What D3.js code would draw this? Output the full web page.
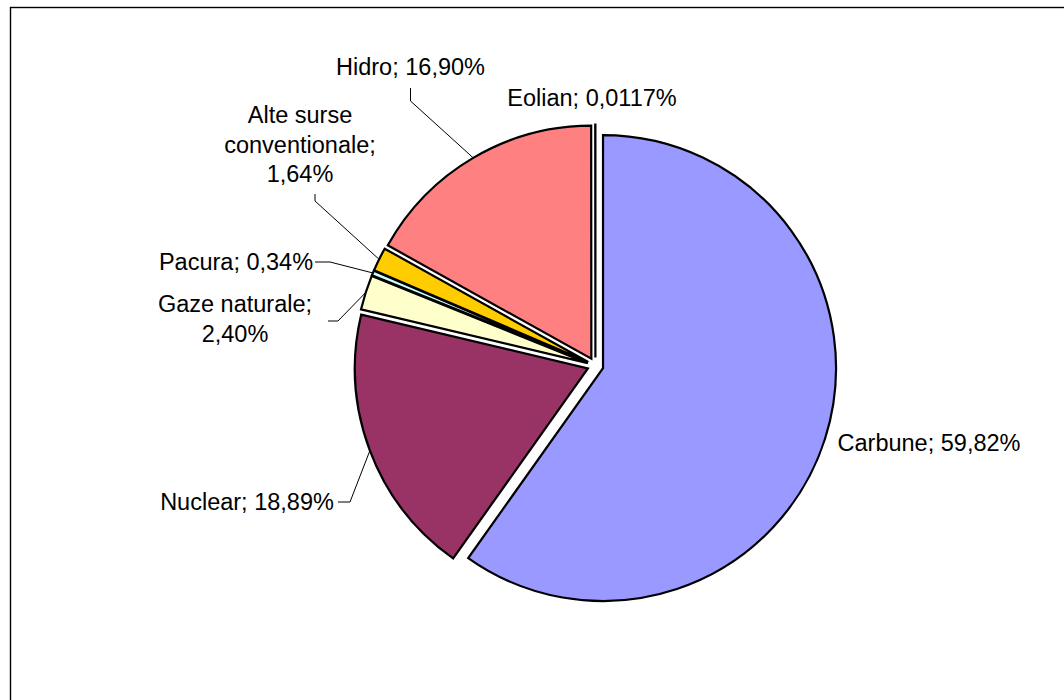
<!DOCTYPE html>
<html>
<head>
<meta charset="utf-8">
<script src="https://cdn.jsdelivr.net/npm/d3@7"></script>
<style>
  html, body { margin: 0; padding: 0; background: #fff; }
  svg { display: block; }
</style>
</head>
<body>
<svg id="chart" width="1064" height="700"></svg>
<script>
// data
const categories = ['Carbune', 'Nuclear', 'Gaze naturale', 'Pacura', 'Alte surse conventionale', 'Hidro', 'Eolian']
const shares = [59.82, 18.89, 2.40, 0.34, 1.64, 16.90, 0.0117]
const colors = ['#9999FF', '#993366', '#FFFFCC', '#CCFFFF', '#FFCC00', '#FF8080', '#660066']

// label placement (text centre x, first baseline y, leader start points)
const labelLayout = {
  'Carbune': { x: 929, y: 451 },
  'Nuclear': { x: 247, y: 510, leader: [[338, 502], [350, 502]] },
  'Gaze naturale': { x: 235, y: 312, leader: [[328, 321], [338, 321]] },
  'Pacura': { x: 236, y: 270, leader: [[315, 262], [330, 262]] },
  'Alte surse conventionale': { x: 300, y: 123, leader: [[315, 194], [315, 201]] },
  'Hidro': { x: 410.5, y: 75, leader: [[410.5, 88], [410.5, 101]] },
  'Eolian': { x: 592, y: 106 }
}

const width = 1064
const height = 700
const cx = 595.4
const cy = 365.6
const radius = 233
const explode = 8
const fontSize = 23.5
const lineHeight = 29.5
const wrapWidth = 200

const fmt = v => (v < 0.1 ? v.toFixed(4) : v.toFixed(2)).replace('.', ',') + '%'

const svg = d3.select('#chart')

// outer frame
svg.append('rect')
  .attr('x', 10.5)
  .attr('y', 7.5)
  .attr('width', width)
  .attr('height', height)
  .attr('fill', 'none')
  .attr('stroke', '#000')
  .attr('stroke-width', 1.4)

const data = categories.map((c, i) => ({ name: c, value: shares[i], color: colors[i] }))

const pie = d3.pie()
  .sort(null)
  .value(d => d.value)

const arcs = pie(data)

const arc = d3.arc()
  .innerRadius(0)
  .outerRadius(radius)

const edge = d3.arc()
  .innerRadius(radius)
  .outerRadius(radius)

const offset = d => {
  const a = (d.startAngle + d.endAngle) / 2
  return [cx + explode * Math.sin(a), cy - explode * Math.cos(a)]
}

svg.append('g')
  .selectAll('path')
  .data(arcs)
  .join('path')
  .attr('transform', d => `translate(${offset(d)})`)
  .attr('d', arc)
  .attr('fill', d => d.data.color)
  .attr('stroke', '#000')
  .attr('stroke-width', 2.2)
  .attr('stroke-linejoin', 'miter')

// leader lines
const leaders = svg.append('g')
arcs.forEach(d => {
  const lay = labelLayout[d.data.name]
  if (!lay.leader) return
  const o = offset(d)
  const c = edge.centroid(d)
  const pts = lay.leader.concat([[o[0] + c[0], o[1] + c[1]]])
  leaders.append('path')
    .attr('d', d3.line()(pts))
    .attr('fill', 'none')
    .attr('stroke', '#000')
    .attr('stroke-width', 1)
})

// labels
const measure = svg.append('text')
  .attr('font-family', 'Liberation Sans, Arial, sans-serif')
  .attr('font-size', fontSize)
  .attr('visibility', 'hidden')

const wrap = str => {
  const words = str.split(' ')
  const lines = []
  let cur = ''
  words.forEach(w => {
    const test = cur ? cur + ' ' + w : w
    measure.text(test)
    if (cur && measure.node().getComputedTextLength() > wrapWidth) {
      lines.push(cur)
      cur = w
    } else {
      cur = test
    }
  })
  lines.push(cur)
  return lines
}

const labels = svg.append('g')
  .attr('font-family', 'Liberation Sans, Arial, sans-serif')
  .attr('font-size', fontSize)
  .attr('fill', '#000')
  .attr('text-anchor', 'middle')

arcs.forEach(d => {
  const lay = labelLayout[d.data.name]
  const lines = wrap(d.data.name + '; ' + fmt(d.data.value))
  const t = labels.append('text')
  lines.forEach((l, i) => {
    t.append('tspan')
      .attr('x', lay.x)
      .attr('y', lay.y + i * lineHeight)
      .text(l)
  })
})

measure.remove()
</script>
</body>
</html>
